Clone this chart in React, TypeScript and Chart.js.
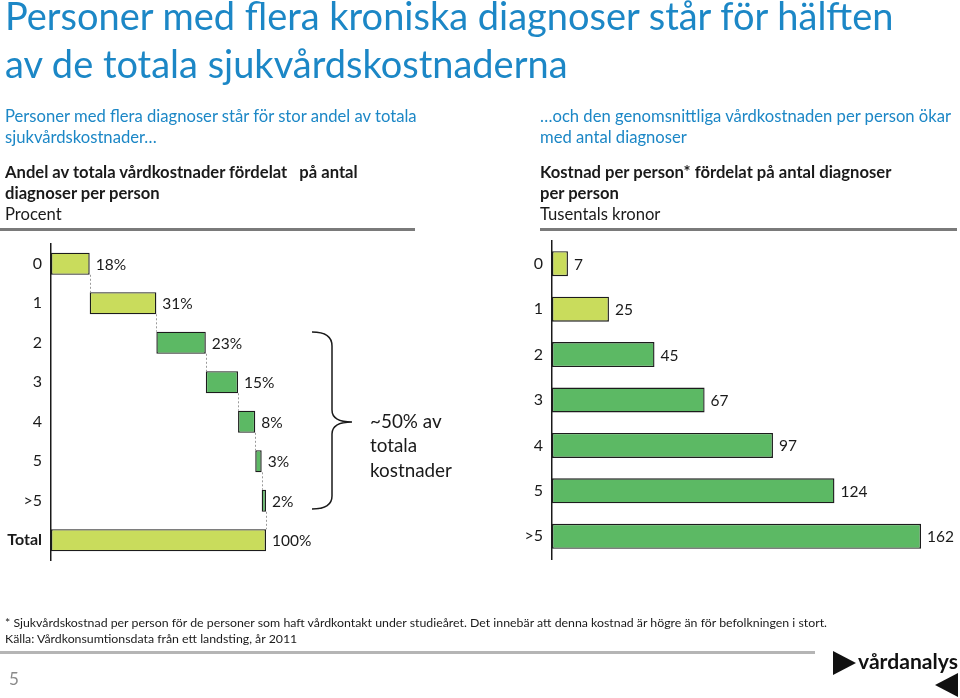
import React, { useEffect, useRef } from 'react';
import { Chart, registerables } from 'chart.js';

Chart.register(...registerables);

const FONT = 'Lato';

// ---- data ----
const shareCategories = ['0', '1', '2', '3', '4', '5', '>5', 'Total'];
const shareValues = [18, 31, 23, 15, 8, 3, 2];
const shareTotal = 100;
const costCategories = ['0', '1', '2', '3', '4', '5', '>5'];
const costValues = [7, 25, 45, 67, 97, 124, 162];

const LIGHT = '#c9dc5c';
const DARK = '#5cb964';
const EDGE = '#1c1c1c';
const TEXT = '#1a1a1a';
const BLUE = '#1c87c6';

// ---- plugins ----
const valueLabels = {
  id: 'valueLabels',
  afterDatasetsDraw(chart: any, _a: any, opts: any) {
    const { ctx } = chart;
    const meta = chart.getDatasetMeta(0);
    ctx.save();
    ctx.font = `${opts.size}px ${FONT}`;
    ctx.fillStyle = opts.color;
    ctx.textBaseline = 'middle';
    ctx.textAlign = 'left';
    meta.data.forEach((el: any, i: number) => {
      ctx.fillText(opts.labels[i], el.x + opts.offset, el.y + 1);
    });
    ctx.restore();
  },
};

const connectors = {
  id: 'connectors',
  afterDatasetsDraw(chart: any, _a: any, opts: any) {
    if (!opts || !opts.enabled) return;
    const { ctx } = chart;
    const meta = chart.getDatasetMeta(0);
    ctx.save();
    ctx.strokeStyle = '#9a9a9a';
    ctx.lineWidth = 1;
    ctx.setLineDash([2, 2]);
    for (let i = 0; i < meta.data.length - 1; i++) {
      const a = meta.data[i];
      const b = meta.data[i + 1];
      const x = Math.round(a.x) + 0.5;
      ctx.beginPath();
      ctx.moveTo(x, a.y + a.height / 2);
      ctx.lineTo(x, b.y - b.height / 2);
      ctx.stroke();
    }
    ctx.restore();
  },
};

// ---- text fitting ----
let measureCtx: CanvasRenderingContext2D | null = null;
function fit(text: string, weight: number, target: number): number {
  if (!measureCtx) measureCtx = document.createElement('canvas').getContext('2d');
  const nominal = 100;
  measureCtx!.font = `${weight} ${nominal}px ${FONT}`;
  const w = measureCtx!.measureText(text).width;
  return (nominal * target) / w;
}

function T(props: { x: number; y: number; text: string; size: number; color?: string; weight?: number; anchor?: string }) {
  return (
    <text
      x={props.x}
      y={props.y}
      fontFamily={FONT}
      fontSize={props.size}
      fontWeight={props.weight ?? 400}
      fill={props.color ?? TEXT}
      textAnchor={props.anchor ?? 'start'}
      style={{ whiteSpace: 'pre' }}
    >
      {props.text}
    </text>
  );
}

function fixAxis(width: number) {
  return (s: any) => {
    s.width = width;
    s.paddingTop = 0;
    s.paddingBottom = 0;
  };
}

function ShareChart() {
  const ref = useRef<HTMLCanvasElement>(null);
  useEffect(() => {
    let cum = 0;
    const floating: number[][] = shareValues.map((v) => {
      const r = [cum, cum + v];
      cum += v;
      return r;
    });
    floating.push([0, shareTotal]);
    const labels = [...shareValues, shareTotal].map((v) => `${v}%`);
    const colors = shareCategories.map((_, i) => (i < 2 || i === shareCategories.length - 1 ? LIGHT : DARK));
    const chart = new Chart(ref.current!, {
      type: 'bar',
      data: {
        labels: shareCategories,
        datasets: [
          {
            data: floating as any,
            backgroundColor: colors,
            borderColor: EDGE,
            borderWidth: 1.4,
            borderSkipped: false,
            barPercentage: 0.56,
            categoryPercentage: 1,
          },
        ],
      },
      options: {
        indexAxis: 'y',
        responsive: false,
        animation: false,
        layout: { padding: { top: 4, bottom: 2, left: 0, right: 54 } },
        plugins: {
          legend: { display: false },
          tooltip: { enabled: false },
          valueLabels: { labels, size: 15.5, color: TEXT, offset: 6 },
          connectors: { enabled: true },
        } as any,
        scales: {
          x: { display: false, min: 0, max: shareTotal },
          y: {
            afterFit: fixAxis(51),
            grid: { display: false, drawTicks: false },
            border: { display: true, color: TEXT, width: 1.5 },
            ticks: {
              color: TEXT,
              padding: 9,
              font: (c: any) => ({ family: FONT, size: 16, weight: c.index === shareCategories.length - 1 ? 'bold' : 'normal' }),
            },
          },
        },
      },
      plugins: [valueLabels, connectors],
    });
    return () => chart.destroy();
  }, []);
  return <canvas ref={ref} width={320} height={322} style={{ position: 'absolute', left: 0, top: 240, display: 'block' }} />;
}

function CostChart() {
  const ref = useRef<HTMLCanvasElement>(null);
  useEffect(() => {
    const colors = costCategories.map((_, i) => (i < 2 ? LIGHT : DARK));
    const chart = new Chart(ref.current!, {
      type: 'bar',
      data: {
        labels: costCategories,
        datasets: [
          {
            data: costValues,
            backgroundColor: colors,
            borderColor: EDGE,
            borderWidth: 1.4,
            borderSkipped: false,
            barPercentage: 0.55,
            categoryPercentage: 1,
          },
        ],
      },
      options: {
        indexAxis: 'y',
        responsive: false,
        animation: false,
        layout: { padding: { top: 1, bottom: 3, left: 0, right: 39 } },
        plugins: {
          legend: { display: false },
          tooltip: { enabled: false },
          valueLabels: { labels: costValues.map(String), size: 15.5, color: TEXT, offset: 6 },
          connectors: { enabled: false },
        } as any,
        scales: {
          x: { display: false, min: 0, max: 162 },
          y: {
            afterFit: fixAxis(72),
            grid: { display: false, drawTicks: false },
            border: { display: true, color: TEXT, width: 1.5 },
            ticks: { color: TEXT, padding: 9, font: { family: FONT, size: 16 } },
          },
        },
      },
      plugins: [valueLabels, connectors],
    });
    return () => chart.destroy();
  }, []);
  return <canvas ref={ref} width={480} height={322} style={{ position: 'absolute', left: 480, top: 240, display: 'block' }} />;
}

export default function App() {
  const title1 = 'Personer med flera kroniska diagnoser står för hälften';
  const title2 = 'av de totala sjukvårdskostnaderna';
  const titleSize = fit(title1, 400, 892);

  const subL1 = 'Personer med flera diagnoser står för stor andel av totala';
  const subL2 = 'sjukvårdskostnader…';
  const subR1 = '…och den genomsnittliga vårdkostnaden per person ökar';
  const subR2 = 'med antal diagnoser';
  const subSize = fit(subL1, 400, 414);

  const hL1 = 'Andel av totala vårdkostnader fördelat   på antal';
  const hL2 = 'diagnoser per person';
  const hL3 = 'Procent';
  const hR1 = 'Kostnad per person* fördelat på antal diagnoser';
  const hR2 = 'per person';
  const hR3 = 'Tusentals kronor';
  const hSize = fit(hR1, 700, 352);

  const foot1 =
    '* Sjukvårdskostnad per person för de personer som haft vårdkontakt under studieåret. Det innebär att denna kostnad är högre än för befolkningen i stort.';
  const foot2 = 'Källa: Vårdkonsumtionsdata från ett landsting, år 2011';
  const footSize = fit(foot1, 400, 825);

  const braceSize = fit('kostnader', 400, 82);
  const logoSize = fit('vårdanalys', 700, 100);

  return (
    <div style={{ position: 'fixed', left: 0, top: 0, width: 960, height: 698, overflow: 'hidden', background: '#fff' }}>
      <ShareChart />
      <CostChart />
      <svg width={960} height={698} style={{ position: 'absolute', left: 0, top: 0, pointerEvents: 'none' }}>
        <T x={5} y={30} text={title1} size={titleSize} color={BLUE} />
        <T x={5} y={78} text={title2} size={titleSize} color={BLUE} />

        <T x={5} y={122} text={subL1} size={subSize} color={BLUE} />
        <T x={5} y={143} text={subL2} size={subSize} color={BLUE} />
        <T x={540} y={122} text={subR1} size={subSize} color={BLUE} />
        <T x={540} y={143} text={subR2} size={subSize} color={BLUE} />

        <T x={5} y={178} text={hL1} size={hSize} weight={700} />
        <T x={5} y={199} text={hL2} size={hSize} weight={700} />
        <T x={5} y={220} text={hL3} size={hSize} />
        <T x={540} y={178} text={hR1} size={hSize} weight={700} />
        <T x={540} y={199} text={hR2} size={hSize} weight={700} />
        <T x={540} y={220} text={hR3} size={hSize} />

        <rect x={0} y={228} width={415} height={3} fill="#7a7a7a" />
        <rect x={540} y={228} width={417} height={3} fill="#7a7a7a" />

        <path
          d="M312,332 Q332,332 332,346 L332,410 Q332,422 352,422 Q332,422 332,434 L332,496 Q332,509 312,509"
          fill="none"
          stroke={TEXT}
          strokeWidth={1.5}
        />
        <T x={370} y={428} text="~50% av" size={braceSize} />
        <T x={370} y={452} text="totala" size={braceSize} />
        <T x={370} y={477} text="kostnader" size={braceSize} />

        <T x={5} y={627} text={foot1} size={footSize} />
        <T x={5} y={643} text={foot2} size={footSize} />
        <rect x={0} y={651} width={815} height={3} fill="#b5b5b5" />
        <T x={9} y={685} text="5" size={17} color="#8a8a8a" />

        <polygon points="833,651 856,663 833,675" fill="#111" />
        <T x={858} y={669} text="vårdanalys" size={logoSize} weight={700} color="#111" />
        <polygon points="935,685 958,673 958,697" fill="#111" />
      </svg>
    </div>
  );
}
